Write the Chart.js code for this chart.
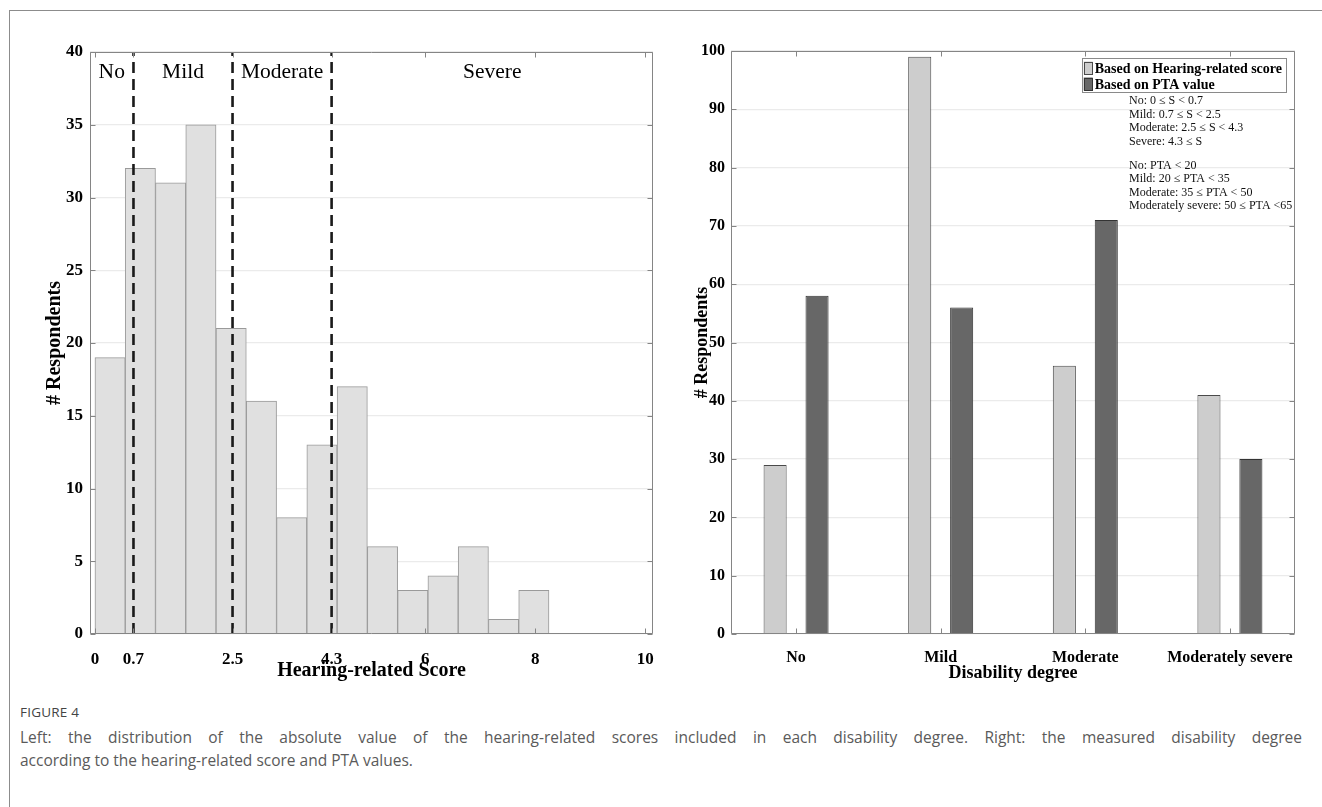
<!DOCTYPE html>
<html><head><meta charset="utf-8">
<script src="https://cdn.jsdelivr.net/npm/chart.js@4.4.1/dist/chart.umd.min.js"></script>
<style>
html,body{margin:0;padding:0;background:#fff;width:1322px;height:807px;overflow:hidden;position:relative;}
#frame{position:absolute;left:9px;top:10px;width:1313px;height:797px;border-top:1.5px solid #8c8c8c;border-left:1.5px solid #8c8c8c;box-sizing:border-box;}
#c1{position:absolute;left:0;top:0;}
#c2{position:absolute;left:680px;top:0;}
#cap{position:absolute;left:20px;top:702px;width:1282px;font-family:'Open Sans',sans-serif;color:#5a5a5a;}
#cap .fig{font-size:13.5px;letter-spacing:0.2px;line-height:20px;margin-bottom:4px;color:#444;}
#cap .l1{font-size:15.5px;line-height:23px;text-align:justify;text-align-last:justify;}
#cap .l2{font-size:15.5px;line-height:23px;}
</style></head>
<body>
<div id="frame"></div>
<canvas id="c1" width="680" height="700"></canvas>
<canvas id="c2" width="642" height="700"></canvas>
<div id="cap">
<div class="fig">FIGURE 4</div>
<div class="l1">Left: the distribution of the absolute value of the hearing-related scores included in each disability degree. Right: the measured disability degree</div>
<div class="l2">according to the hearing-related score and PTA values.</div>
</div>
<script>
// ---------- data ----------
const histEdges = [0, 0.55, 1.1, 1.65, 2.2, 2.75, 3.3, 3.85, 4.4, 4.95, 5.5, 6.05, 6.6, 7.15, 7.7, 8.25];
const histCounts = [19, 32, 31, 35, 21, 16, 8, 13, 17, 6, 3, 4, 6, 1, 3];
const thresholds = [0.7, 2.5, 4.3];
const severityLabels = ['No', 'Mild', 'Moderate', 'Severe'];
const leftXTicks = [0, 0.7, 2.5, 4.3, 6, 8, 10];

const categories = ['No', 'Mild', 'Moderate', 'Moderately severe'];
const scoreBased = [29, 99, 46, 41];
const ptaBased = [58, 56, 71, 30];
const seriesNames = ['Based on Hearing-related score', 'Based on PTA value'];
const criteriaS = ['No: 0 \u2264 S < 0.7', 'Mild: 0.7 \u2264 S < 2.5', 'Moderate: 2.5 \u2264 S < 4.3', 'Severe: 4.3 \u2264 S'];
const criteriaPTA = ['No: PTA < 20', 'Mild: 20 \u2264 PTA < 35', 'Moderate: 35 \u2264 PTA < 50', 'Moderately severe: 50 \u2264 PTA <65'];

// ---------- plugins ----------
const SERIF = "'Liberation Serif','Times New Roman',serif";
const boxTicks = {
  id: 'boxTicks',
  afterDatasetsDraw(chart, args, o) {
    const {ctx, chartArea: a, scales: {x, y}} = chart;
    ctx.save();
    ctx.strokeStyle = o.color; ctx.lineWidth = 1;
    const l = Math.round(a.left) + 0.5, r = Math.round(a.right) - 0.5;
    const t = Math.round(a.top) + 0.5, b = Math.round(a.bottom) - 0.5;
    const L = o.len;
    ctx.beginPath();
    ctx.rect(l, t, r - l, b - t);
    x.ticks.forEach(tk => {
      const p = Math.round(x.getPixelForValue(tk.value)) + 0.5;
      ctx.moveTo(p, b); ctx.lineTo(p, b - L);
      ctx.moveTo(p, t); ctx.lineTo(p, t + L);
    });
    y.ticks.forEach(tk => {
      const p = Math.round(y.getPixelForValue(tk.value)) + 0.5;
      ctx.moveTo(l, p); ctx.lineTo(l + L, p);
      ctx.moveTo(r, p); ctx.lineTo(r - L, p);
    });
    ctx.stroke();
    ctx.restore();
  }
};
const regionLabels = {
  id: 'regionLabels',
  afterDatasetsDraw(chart, args, o) {
    const {ctx, chartArea: a, scales: {x}} = chart;
    const bounds = [x.min, ...thresholds, x.max];
    ctx.save();
    ctx.font = o.font; ctx.fillStyle = o.color;
    ctx.textAlign = 'center'; ctx.textBaseline = 'alphabetic';
    severityLabels.forEach((s, i) => {
      const cx = x.getPixelForValue((bounds[i] + bounds[i + 1]) / 2);
      ctx.fillText(s, cx, a.top + o.dy);
    });
    ctx.restore();
  }
};
const legendNote = {
  id: 'legendNote',
  afterDatasetsDraw(chart, args, o) {
    const {ctx, chartArea: a} = chart;
    const ds = chart.data.datasets;
    ctx.save();
    ctx.font = o.legendFont;
    const tw = Math.max(...ds.map(d => ctx.measureText(d.label).width));
    const right = a.right - o.rightGap;
    const textLeft = right - 5 - tw;
    const top = a.top + o.topGap;
    const boxLeft = textLeft - 13;
    const h = o.rowH * ds.length + 3;
    ctx.fillStyle = '#fff';
    ctx.fillRect(boxLeft, top, right - boxLeft, h);
    ctx.strokeStyle = '#8a8a8a'; ctx.lineWidth = 1;
    ctx.strokeRect(Math.round(boxLeft) + 0.5, Math.round(top) + 0.5, Math.round(right - boxLeft) - 1, Math.round(h) - 1);
    ds.forEach((d, i) => {
      const cy = top + 2 + o.rowH * (i + 0.5);
      ctx.fillStyle = d.backgroundColor;
      ctx.fillRect(boxLeft + 2, cy - 6.5, 9, 13);
      ctx.strokeStyle = d.borderColor;
      ctx.strokeRect(Math.round(boxLeft + 2) + 0.5, Math.round(cy - 6.5) + 0.5, 8, 12);
      ctx.fillStyle = '#000'; ctx.textBaseline = 'middle'; ctx.textAlign = 'left';
      ctx.fillText(d.label, textLeft, cy + 1);
    });
    ctx.font = o.noteFont; ctx.fillStyle = '#111';
    ctx.textBaseline = 'middle'; ctx.textAlign = 'left';
    const nx = a.right - o.noteOffset;
    let yy = a.top + o.noteTop;
    criteriaS.forEach(s => { ctx.fillText(s, nx, yy); yy += o.noteStep; });
    yy += o.groupGap;
    criteriaPTA.forEach(s => { ctx.fillText(s, nx, yy); yy += o.noteStep; });
    ctx.restore();
  }
};

// ---------- left chart ----------
const histPoints = histCounts.map((c, i) => ({x: (histEdges[i] + histEdges[i + 1]) / 2, y: c}));
const thresholdSets = thresholds.map(t => ({
  type: 'line',
  data: [{x: t, y: 0}, {x: t, y: 40}],
  borderColor: '#1a1a1a', borderWidth: 2.6, borderDash: [11, 6],
  pointRadius: 0, fill: false, order: 1
}));

new Chart(document.getElementById('c1'), {
  type: 'bar',
  data: {
    datasets: [
      {type: 'bar', data: histPoints, backgroundColor: '#e0e0e0', borderColor: '#9a9a9a', borderWidth: 1,
        categoryPercentage: 1, barPercentage: 1, order: 2},
      ...thresholdSets
    ]
  },
  options: {
    responsive: false, animation: false, devicePixelRatio: 1,
    layout: {padding: {left: 20, top: 52, right: 27, bottom: 0}},
    plugins: {legend: {display: false}, tooltip: {enabled: false},
      boxTicks: {color: '#858585', len: 5},
      regionLabels: {font: '21.5px ' + SERIF, color: '#000', dy: 26}},
    scales: {
      x: {type: 'linear', min: -0.09, max: 10.14, offset: false,
        grid: {display: false, offset: false}, border: {display: false},
        afterBuildTicks: s => { s.ticks = leftXTicks.map(v => ({value: v})); },
        afterFit: s => { s.height = 66; },
        ticks: {autoSkip: false, maxRotation: 0, padding: 7, color: '#000',
          font: {family: SERIF, size: 17, weight: 'bold'}, callback: v => String(v)},
        title: {display: true, text: 'Hearing-related Score', color: '#000',
          font: {family: SERIF, size: 20, weight: 'bold'}, padding: {top: 0, bottom: 17}}
      },
      y: {type: 'linear', min: 0, max: 40,
        grid: {color: '#ebebeb', lineWidth: 1.2, drawTicks: false}, border: {display: false},
        afterFit: s => { s.width = 70; },
        ticks: {stepSize: 5, padding: 7, color: '#000', font: {family: SERIF, size: 17, weight: 'bold'}},
        title: {display: true, text: '# Respondents', color: '#000',
          font: {family: SERIF, size: 20, weight: 'bold'}, padding: {top: 23, bottom: 0}}
      }
    }
  },
  plugins: [boxTicks, regionLabels]
});

// ---------- right chart ----------
new Chart(document.getElementById('c2'), {
  type: 'bar',
  data: {
    datasets: [
      {label: seriesNames[0], data: scoreBased.map((v, i) => ({x: i + 1, y: v})),
        backgroundColor: '#cdcdcd', borderColor: '#4a4a4a', borderWidth: 1,
        categoryPercentage: 0.58, barPercentage: 0.55},
      {label: seriesNames[1], data: ptaBased.map((v, i) => ({x: i + 1, y: v})),
        backgroundColor: '#676767', borderColor: '#333333', borderWidth: 1,
        categoryPercentage: 0.58, barPercentage: 0.55}
    ]
  },
  options: {
    responsive: false, animation: false, devicePixelRatio: 1,
    layout: {padding: {left: 0, top: 51, right: 27, bottom: 0}},
    plugins: {legend: {display: false}, tooltip: {enabled: false},
      boxTicks: {color: '#858585', len: 5},
      legendNote: {legendFont: 'bold 14px ' + SERIF, noteFont: '12px ' + SERIF,
        rightGap: 8, topGap: 7, rowH: 16, noteOffset: 166, noteTop: 50, noteStep: 13.6, groupGap: 10}},
    scales: {
      x: {type: 'linear', min: 0.55, max: 4.45, offset: false,
        grid: {display: false, offset: false}, border: {display: false},
        afterBuildTicks: s => { s.ticks = categories.map((c, i) => ({value: i + 1})); },
        afterFit: s => { s.height = 66; },
        ticks: {autoSkip: false, maxRotation: 0, padding: 6, color: '#000',
          font: {family: SERIF, size: 16, weight: 'bold'}, callback: v => categories[Math.round(v) - 1]},
        title: {display: true, text: 'Disability degree', color: '#000',
          font: {family: SERIF, size: 18, weight: 'bold'}, padding: {top: 0, bottom: 16}}
      },
      y: {type: 'linear', min: 0, max: 100,
        grid: {color: '#ebebeb', lineWidth: 1.2, drawTicks: false}, border: {display: false},
        afterFit: s => { s.width = 51; },
        ticks: {stepSize: 10, padding: 6, color: '#000', font: {family: SERIF, size: 16, weight: 'bold'}},
        title: {display: true, text: '# Respondents', color: '#000',
          font: {family: SERIF, size: 18, weight: 'bold'}, padding: {top: 12, bottom: 0}}
      }
    }
  },
  plugins: [boxTicks, legendNote]
});
</script>
</body></html>
